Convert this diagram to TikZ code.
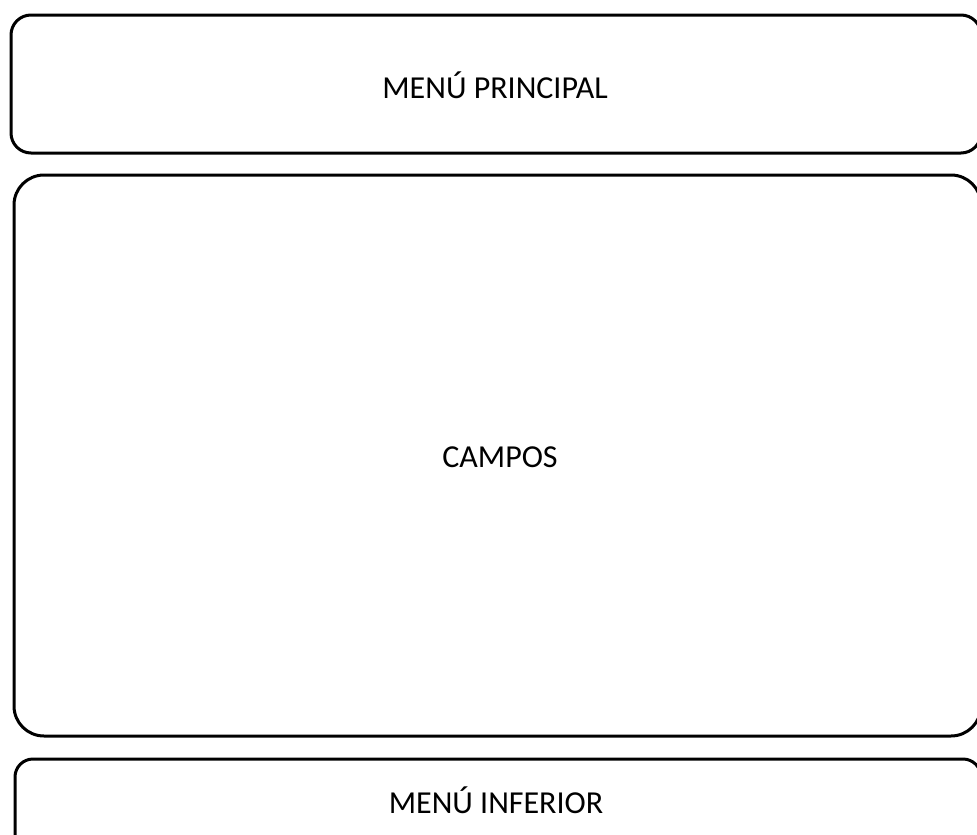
\documentclass[tikz,border=0pt]{standalone}
\usepackage{fontspec}
\setmainfont{Carlito}
\begin{document}
\begin{tikzpicture}[x=1pt,y=-1pt,
  panel/.style={draw=black,line width=3pt,rounded corners=#1},
  label/.style={font=\fontsize{32}{36}\selectfont}]
\useasboundingbox (0,0) rectangle (977,835);
\clip (0,0) rectangle (977,835);
\fill[white] (0,0) rectangle (977,835);
\draw[panel=20pt] (11,15) rectangle (981,153);
\draw[panel=30pt] (14,175) rectangle (981,736);
\draw[panel=18pt] (15,759) rectangle (981,870);
\node[label] (principal) at (495,85) {MENÚ PRINCIPAL};
\node[label] (campos) at (500,457) {CAMPOS};
\node[label] (inferior) at (496,800) {MENÚ INFERIOR};
\end{tikzpicture}
\end{document}
